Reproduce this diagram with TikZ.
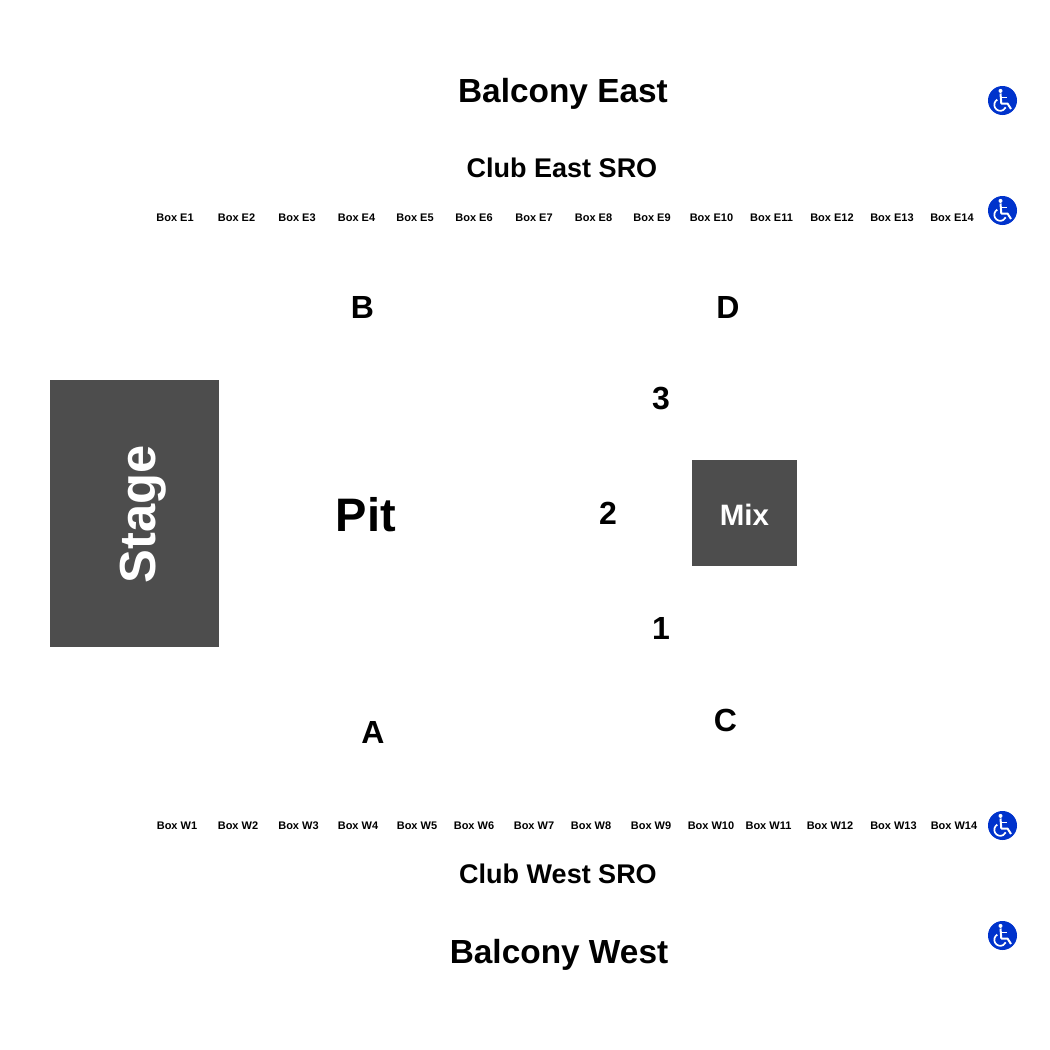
\documentclass[tikz,border=0pt]{standalone}
\usepackage{fontspec}
\setmainfont{Liberation Sans}
\definecolor{wheelblue}{RGB}{0,51,204}
\definecolor{blockgrey}{RGB}{77,77,77}
\begin{document}
\begin{tikzpicture}[x=1pt,y=-1pt,
  lab/.style={inner sep=0pt,outer sep=0pt,anchor=base,font=\bfseries\fontsize{#1}{#1}\selectfont},
  boxlab/.style={lab=11},
  wheel/.pic={
    \fill[wheelblue] (0,0) circle[radius=14.5];
    \draw[white,line width=2,line join=round] (-2,-7) -- (-1.2,3) -- (5,3) -- (8.5,8.5);
    \draw[white,line width=1.7] (-1.6,-3) -- (4,-3);
    \fill[white] (-2,-9.6) circle[radius=2];
    \draw[white,line width=1.7] (-5.2,-0.9) arc[start angle=240,end angle=25,radius=6];
  }]
\useasboundingbox (0,0) rectangle (1050,1050);
\node[lab=33.4] (balE) at (563,102) {Balcony East};
\node[lab=27] (clubE) at (562,177) {Club East SRO};
\node[lab=33.4] (balW) at (559,963) {Balcony West};
\node[lab=27] (clubW) at (558,883) {Club West SRO};
\foreach \n/\x in {1/175,2/236.5,3/297,4/356.5,5/415,6/474,7/534,8/593.5,9/652,10/711.5,11/771.5,12/832,13/892,14/952}
  \node[boxlab] (e\n) at (\x,221) {Box E\n};
\foreach \n/\x in {1/177,2/238,3/298.5,4/358,5/417,6/474,7/534,8/591,9/651,10/711,11/768.5,12/830,13/893.5,14/954}
  \node[boxlab] (w\n) at (\x,829) {Box W\n};
\node[lab=32] (B) at (362.5,318) {B};
\node[lab=32] (D) at (728,318) {D};
\node[lab=32] (A) at (373,743) {A};
\node[lab=32] (C) at (725.5,731) {C};
\node[lab=32] (n3) at (661,409) {3};
\node[lab=32] (n2) at (608,524) {2};
\node[lab=32] (n1) at (661,639) {1};
\node[lab=47] (pit) at (366,531) {Pit};
\fill[blockgrey] (50,380) rectangle (219,647);
\fill[blockgrey] (692,460) rectangle (797,566);
\node[lab=50.7,white,rotate=90] (stage) at (155,514) {Stage};
\node[lab=29.5,white] (mix) at (744.5,525) {Mix};
\path (1002.5,100.5) pic {wheel} (1002.5,210.5) pic {wheel} (1002.5,825.5) pic {wheel} (1002.5,935.5) pic {wheel};
\end{tikzpicture}
\end{document}
